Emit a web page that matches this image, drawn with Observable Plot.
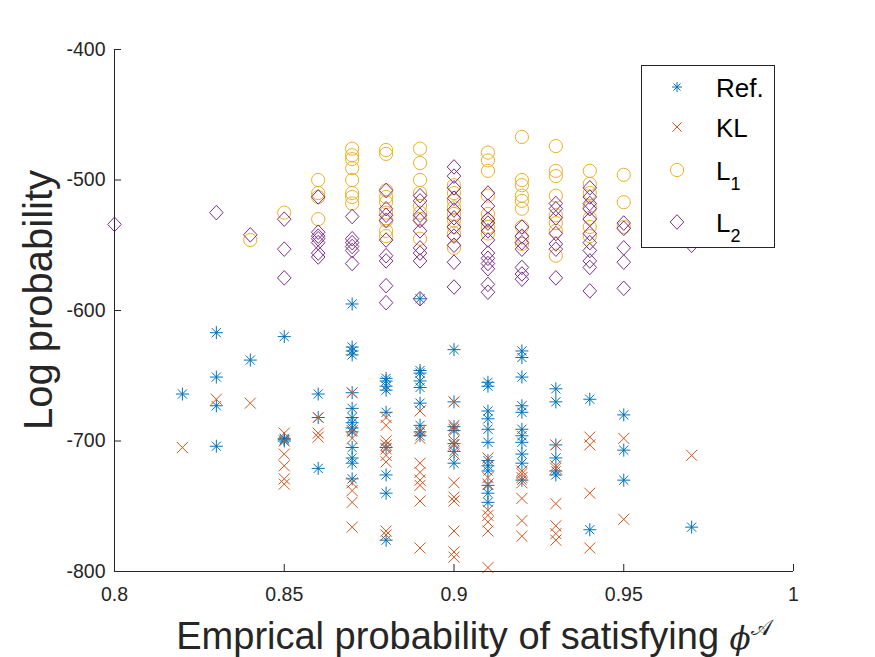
<!DOCTYPE html>
<html>
<head>
<meta charset="utf-8">
<script src="https://cdn.jsdelivr.net/npm/d3@7"></script>
<script src="https://cdn.jsdelivr.net/npm/@observablehq/plot@0.6"></script>
<style>
  html, body { margin: 0; padding: 0; background: #fff; }
  #wrap { position: relative; width: 875px; height: 657px; overflow: hidden; }
  #wrap svg.plot { position: absolute; left: 0; top: 0; }
  .lab { position: absolute; font-family: "Liberation Sans", Arial, sans-serif; color: #262626; white-space: nowrap; }
</style>
</head>
<body>
<div id="wrap"></div>
<script>
// ---- data ----
const xTicks = [0.8, 0.85, 0.9, 0.95, 1];
const xTickLabels = ["0.8", "0.85", "0.9", "0.95", "1"];
const yTicks = [-800, -700, -600, -500, -400];
const yTickLabels = ["-800", "-700", "-600", "-500", "-400"];
const seriesNames = ["Ref.", "KL", "L1", "L2"];
const seriesColors = ["#0072BD", "#D95319", "#EDB120", "#7E2F8E"];

const ref = [
  [0.82,-664],
  [0.83,-617],[0.83,-651],[0.83,-673],[0.83,-704],
  [0.84,-638],
  [0.85,-620],[0.85,-698],[0.85,-699],[0.85,-700],
  [0.86,-664],[0.86,-682],[0.86,-721],
  [0.87,-595],[0.87,-628],[0.87,-631],[0.87,-634],[0.87,-663],[0.87,-675],[0.87,-682],[0.87,-686],[0.87,-690],[0.87,-693],[0.87,-705],[0.87,-713],[0.87,-717],[0.87,-729],
  [0.88,-652],[0.88,-654],[0.88,-658],[0.88,-661],[0.88,-678],[0.88,-705],[0.88,-726],[0.88,-740],[0.88,-776],
  [0.89,-591],[0.89,-646],[0.89,-648],[0.89,-654],[0.89,-659],[0.89,-671],[0.89,-688],[0.89,-693],[0.89,-696],
  [0.90,-630],[0.90,-670],[0.90,-689],[0.90,-692],[0.90,-702],[0.90,-708],[0.90,-717],
  [0.91,-655],[0.91,-658],[0.91,-677],[0.91,-683],[0.91,-691],[0.91,-701],[0.91,-715],[0.91,-719],[0.91,-723],[0.91,-734],[0.91,-740],[0.91,-747],
  [0.92,-631],[0.92,-636],[0.92,-651],[0.92,-673],[0.92,-678],[0.92,-691],[0.92,-696],[0.92,-701],[0.92,-710],[0.92,-717],[0.92,-730],
  [0.93,-660],[0.93,-670],[0.93,-703],[0.93,-713],[0.93,-723],[0.93,-726],
  [0.94,-668],[0.94,-768],
  [0.95,-680],[0.95,-707],[0.95,-730],
  [0.97,-766]
];
const kl = [
  [0.82,-705],
  [0.83,-668],
  [0.84,-671],
  [0.85,-694],[0.85,-700],[0.85,-710],[0.85,-719],[0.85,-729],[0.85,-733],
  [0.86,-682],[0.86,-694],[0.86,-697],
  [0.87,-663],[0.87,-692],[0.87,-698],[0.87,-732],[0.87,-738],[0.87,-747],[0.87,-766],
  [0.88,-682],[0.88,-688],[0.88,-700],[0.88,-703],[0.88,-706],[0.88,-711],[0.88,-716],[0.88,-769],[0.88,-772],
  [0.89,-677],[0.89,-692],[0.89,-698],[0.89,-717],[0.89,-724],[0.89,-730],[0.89,-734],[0.89,-746],[0.89,-782],
  [0.90,-670],[0.90,-688],[0.90,-691],[0.90,-700],[0.90,-703],[0.90,-710],[0.90,-732],[0.90,-743],[0.90,-746],[0.90,-769],[0.90,-785],[0.90,-789],
  [0.91,-713],[0.91,-728],[0.91,-733],[0.91,-753],[0.91,-757],[0.91,-762],[0.91,-769],[0.91,-797],
  [0.92,-723],[0.92,-725],[0.92,-728],[0.92,-732],[0.92,-744],[0.92,-761],[0.92,-773],
  [0.93,-703],[0.93,-719],[0.93,-721],[0.93,-748],[0.93,-765],[0.93,-771],[0.93,-776],
  [0.94,-697],[0.94,-703],[0.94,-740],[0.94,-782],
  [0.95,-698],[0.95,-760],
  [0.97,-711]
];
const l1 = [
  [0.84,-546],
  [0.85,-525],
  [0.86,-500],[0.86,-510],[0.86,-513],[0.86,-530],
  [0.87,-476],[0.87,-481],[0.87,-484],[0.87,-491],[0.87,-500],[0.87,-510],[0.87,-513],[0.87,-518],
  [0.88,-477],[0.88,-480],[0.88,-508],[0.88,-513],[0.88,-517],[0.88,-525],[0.88,-531],[0.88,-539],[0.88,-543],
  [0.89,-476],[0.89,-487],[0.89,-500],[0.89,-510],[0.89,-520],[0.89,-525],[0.89,-530],[0.89,-545],
  [0.90,-504],[0.90,-510],[0.90,-516],[0.90,-521],[0.90,-526],[0.90,-531],[0.90,-536],[0.90,-541],[0.90,-552],
  [0.91,-479],[0.91,-485],[0.91,-493],[0.91,-512],[0.91,-526],[0.91,-531],[0.91,-536],[0.91,-541],
  [0.92,-467],[0.92,-500],[0.92,-504],[0.92,-512],[0.92,-516],[0.92,-522],[0.92,-536],[0.92,-544],[0.92,-549],
  [0.93,-474],[0.93,-493],[0.93,-497],[0.93,-512],[0.93,-527],[0.93,-533],[0.93,-539],[0.93,-558],
  [0.94,-493],[0.94,-503],[0.94,-510],[0.94,-521],[0.94,-529],[0.94,-536],[0.94,-543],
  [0.95,-496],[0.95,-517],[0.95,-536]
];
const l2 = [
  [0.80,-534],
  [0.83,-525],
  [0.84,-542],
  [0.85,-530],[0.85,-553],[0.85,-575],
  [0.86,-513],[0.86,-540],[0.86,-543],[0.86,-545],[0.86,-548],[0.86,-556],[0.86,-559],
  [0.87,-528],[0.87,-545],[0.87,-548],[0.87,-551],[0.87,-554],[0.87,-564],
  [0.88,-508],[0.88,-522],[0.88,-527],[0.88,-531],[0.88,-546],[0.88,-558],[0.88,-562],[0.88,-581],[0.88,-594],
  [0.89,-512],[0.89,-516],[0.89,-527],[0.89,-531],[0.89,-539],[0.89,-552],[0.89,-556],[0.89,-562],[0.89,-591],
  [0.90,-490],[0.90,-497],[0.90,-506],[0.90,-514],[0.90,-523],[0.90,-529],[0.90,-536],[0.90,-543],[0.90,-550],[0.90,-563],[0.90,-582],
  [0.91,-510],[0.91,-520],[0.91,-530],[0.91,-533],[0.91,-539],[0.91,-546],[0.91,-556],[0.91,-560],[0.91,-564],[0.91,-568],[0.91,-580],[0.91,-586],
  [0.92,-536],[0.92,-543],[0.92,-548],[0.92,-553],[0.92,-567],[0.92,-572],[0.92,-576],
  [0.93,-518],[0.93,-522],[0.93,-529],[0.93,-541],[0.93,-549],[0.93,-553],[0.93,-575],
  [0.94,-506],[0.94,-513],[0.94,-518],[0.94,-522],[0.94,-530],[0.94,-541],[0.94,-548],[0.94,-554],[0.94,-562],[0.94,-567],[0.94,-585],
  [0.95,-533],[0.95,-537],[0.95,-552],[0.95,-563],[0.95,-583],
  [0.97,-550]
];

// ---- MATLAB-like marker symbols ----
const symStar = {draw(ctx, size) {
  const r = Math.sqrt(size / Math.PI), d = r * 0.7071;
  ctx.moveTo(-r, 0); ctx.lineTo(r, 0);
  ctx.moveTo(0, -r); ctx.lineTo(0, r);
  ctx.moveTo(-d, -d); ctx.lineTo(d, d);
  ctx.moveTo(-d, d); ctx.lineTo(d, -d);
}};
const symTimes = {draw(ctx, size) {
  const r = Math.sqrt(size / Math.PI) * 0.7071;
  ctx.moveTo(-r, -r); ctx.lineTo(r, r);
  ctx.moveTo(-r, r); ctx.lineTo(r, -r);
}};
const symDiamond = {draw(ctx, size) {
  const r = Math.sqrt(size / Math.PI);
  const w = r * 0.93;
  ctx.moveTo(0, -r); ctx.lineTo(w, 0); ctx.lineTo(0, r); ctx.lineTo(-w, 0); ctx.closePath();
}};
const symCircle = {draw(ctx, size) {
  const r = Math.sqrt(size / Math.PI);
  ctx.moveTo(r, 0); ctx.arc(0, 0, r, 0, 2 * Math.PI);
}};

const axisColor = "#262626";
const tickFmt = (labels, ticks) => (v) => labels[ticks.indexOf(v)] ?? "";

const chart = Plot.plot({
  width: 875,
  height: 657,
  marginLeft: 114,
  marginRight: 82,
  marginTop: 49,
  marginBottom: 86,
  style: {fontFamily: "'Liberation Sans', Arial, sans-serif", background: "transparent", color: axisColor},
  x: {domain: [0.8, 1]},
  y: {domain: [-800, -400]},
  marks: [
    Plot.dot(ref, {x: d => d[0], y: d => d[1], symbol: symStar, r: 6.5, stroke: seriesColors[0], fill: "none", strokeWidth: 1}),
    Plot.dot(kl, {x: d => d[0], y: d => d[1], symbol: symTimes, r: 7.8, stroke: seriesColors[1], fill: "none", strokeWidth: 1}),
    Plot.dot(l1, {x: d => d[0], y: d => d[1], symbol: symCircle, r: 6.6, stroke: seriesColors[2], fill: "none", strokeWidth: 1}),
    Plot.dot(l2, {x: d => d[0], y: d => d[1], symbol: symDiamond, r: 7.3, stroke: seriesColors[3], fill: "none", strokeWidth: 1}),
    Plot.ruleX([xTicks[0]], {stroke: axisColor, strokeWidth: 1}),
    Plot.ruleY([yTicks[0]], {stroke: axisColor, strokeWidth: 1}),
    Plot.axisX({ticks: xTicks, tickFormat: tickFmt(xTickLabels, xTicks), tickSize: -7, tickPadding: 23, fontSize: 19.5, label: null, stroke: axisColor, fill: axisColor}),
    Plot.axisY({ticks: yTicks, tickFormat: tickFmt(yTickLabels, yTicks), tickSize: -7, tickPadding: 16, fontSize: 19.5, label: null, stroke: axisColor, fill: axisColor})
  ]
});
chart.classList.add("plot");
const wrap = document.getElementById("wrap");
wrap.appendChild(chart);

// axis titles
const yl = document.createElement("div");
yl.className = "lab";
yl.textContent = "Log probability";
yl.style.fontSize = "40px";
yl.style.left = "38px";
yl.style.top = "300px";
yl.style.transform = "translate(-50%,-50%) rotate(-90deg)";
wrap.appendChild(yl);

const xl = document.createElement("div");
xl.className = "lab";
xl.style.fontSize = "38px";
xl.style.left = "474px";
xl.style.top = "636px";
xl.style.transform = "translate(-50%,-50%)";
xl.innerHTML = 'Emprical probability of satisfying <span style="font-family:\'DejaVu Serif\',serif;font-style:italic;font-size:31px;">ϕ</span><span style="font-family:\'DejaVu Sans\',\'DejaVu Serif\',serif;font-size:22px;position:relative;top:-14px;">𝒜</span>';
wrap.appendChild(xl);

// legend (overlay, drawn on top of the data like MATLAB's)
const ns = "http://www.w3.org/2000/svg";
const leg = document.createElementNS(ns, "svg");
leg.setAttribute("width", 875); leg.setAttribute("height", 657);
leg.style.position = "absolute"; leg.style.left = "0"; leg.style.top = "0";
const box = document.createElementNS(ns, "rect");
box.setAttribute("x", 641.5); box.setAttribute("y", 65.5);
box.setAttribute("width", 133); box.setAttribute("height", 182);
box.setAttribute("fill", "#fff"); box.setAttribute("stroke", axisColor); box.setAttribute("stroke-width", 1);
leg.appendChild(box);
const symbols = [symStar, symTimes, symCircle, symDiamond];
const symR = [5, 6.5, 6.6, 7.3];
const rowY = [87, 127, 170, 222];
seriesNames.forEach((name, i) => {
  const p = d3.path();
  symbols[i].draw(p, Math.PI * symR[i] * symR[i]);
  const path = document.createElementNS(ns, "path");
  path.setAttribute("d", p.toString());
  path.setAttribute("transform", `translate(677,${rowY[i]})`);
  path.setAttribute("fill", "none");
  path.setAttribute("stroke", seriesColors[i]);
  leg.appendChild(path);
  const t = document.createElementNS(ns, "text");
  t.setAttribute("x", 716);
  t.setAttribute("y", rowY[i] + 10);
  t.setAttribute("font-family", "'Liberation Sans', Arial, sans-serif");
  t.setAttribute("font-size", 26);
  t.setAttribute("fill", "#000");
  if (name === "L1" || name === "L2") {
    t.textContent = "L";
    const s = document.createElementNS(ns, "tspan");
    s.setAttribute("font-size", 18);
    s.setAttribute("dy", 10);
    s.textContent = name.slice(1);
    t.appendChild(s);
  } else {
    t.textContent = name;
  }
  leg.appendChild(t);
});
wrap.appendChild(leg);
</script>
</body>
</html>
